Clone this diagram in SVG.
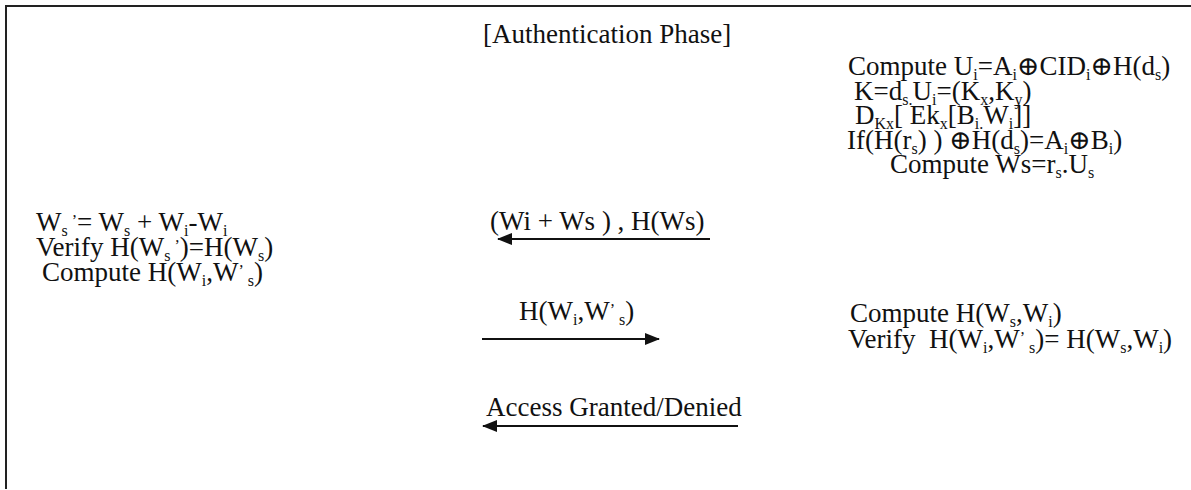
<svg xmlns="http://www.w3.org/2000/svg" width="1191" height="490" viewBox="0 0 1191 490">
<style>
text{font-family:"Liberation Serif","Times New Roman","DejaVu Serif",serif;font-size:27px;fill:#111}
.s{font-size:16px}
.ln{stroke:#111;stroke-width:2;fill:none}
.bd{stroke:#222;stroke-width:2;fill:none}
</style>
<defs>
<marker id="ah" viewBox="0 0 15 12" refX="14" refY="6" markerWidth="15" markerHeight="12" markerUnits="userSpaceOnUse" orient="auto">
<path d="M0,0 L15,6 L0,12 Z" fill="#111"/>
</marker>
</defs>
<rect width="1191" height="490" fill="#fff"/>
<g id="frame">
<path class="bd" d="M6,489 V6 H1191"/>
</g>
<g id="title"><text x="483" y="43">[Authentication Phase]</text></g>
<g id="server-block1">
<text x="848" y="75">Compute U<tspan class="s" baseline-shift="-5">i</tspan>=A<tspan class="s" baseline-shift="-5">i</tspan>⊕CID<tspan class="s" baseline-shift="-5">i</tspan>⊕H(d<tspan class="s" baseline-shift="-5">s</tspan>)</text>
<text x="854" y="100">K=d<tspan class="s" baseline-shift="-5">s.</tspan>U<tspan class="s" baseline-shift="-5">i</tspan>=(K<tspan class="s" baseline-shift="-5">x</tspan>,K<tspan class="s" baseline-shift="-5">y</tspan>)</text>
<text x="855" y="124">D<tspan class="s" baseline-shift="-5">Kx</tspan>[ Ek<tspan class="s" baseline-shift="-5">x</tspan>[B<tspan class="s" baseline-shift="-5">i.</tspan>W<tspan class="s" baseline-shift="-5">i</tspan>]]</text>
<text x="847" y="149">If(H(r<tspan class="s" baseline-shift="-5">s</tspan>) ) ⊕H(d<tspan class="s" baseline-shift="-5">s</tspan>)=A<tspan class="s" baseline-shift="-5">i</tspan>⊕B<tspan class="s" baseline-shift="-5">i</tspan>)</text>
<text x="890" y="173">Compute Ws=r<tspan class="s" baseline-shift="-5">s</tspan>.U<tspan class="s" baseline-shift="-5">s</tspan></text>
</g>
<g id="user-block">
<text x="36" y="231">W<tspan class="s" baseline-shift="-5">s</tspan><tspan class="s" baseline-shift="5">&#160;’</tspan>= W<tspan class="s" baseline-shift="-5">s</tspan> + W<tspan class="s" baseline-shift="-5">i</tspan>-W<tspan class="s" baseline-shift="-5">i</tspan></text>
<text x="36" y="256">Verify H(W<tspan class="s" baseline-shift="-5">s</tspan><tspan class="s" baseline-shift="5">&#160;’</tspan>)=H(W<tspan class="s" baseline-shift="-5">s</tspan>)</text>
<text x="42" y="281">Compute H(W<tspan class="s" baseline-shift="-5">i</tspan>,W<tspan class="s" baseline-shift="5">’&#160;</tspan><tspan class="s" baseline-shift="-5">s</tspan>)</text>
</g>
<g id="server-block2">
<text x="850" y="322">Compute H(W<tspan class="s" baseline-shift="-5">s</tspan>,W<tspan class="s" baseline-shift="-5">i</tspan>)</text>
<text x="848" y="348">Verify&#160; H(W<tspan class="s" baseline-shift="-5">i</tspan>,W<tspan class="s" baseline-shift="5">’&#160;</tspan><tspan class="s" baseline-shift="-5">s</tspan>)= H(W<tspan class="s" baseline-shift="-5">s</tspan>,W<tspan class="s" baseline-shift="-5">i</tspan>)</text>
</g>
<g id="connectors">
<line class="ln" x1="710" y1="239" x2="498" y2="239" marker-end="url(#ah)"/>
<line class="ln" x1="482" y1="339" x2="659" y2="339" marker-end="url(#ah)"/>
<line class="ln" x1="738" y1="426" x2="483" y2="426" marker-end="url(#ah)"/>
<text x="490" y="230">(Wi + Ws ) , H(Ws)</text>
<text x="519" y="320">H(W<tspan class="s" baseline-shift="-5">i</tspan>,W<tspan class="s" baseline-shift="5">’&#160;</tspan><tspan class="s" baseline-shift="-5">s</tspan>)</text>
<text x="486" y="416">Access Granted/Denied</text>
</g>
</svg>
